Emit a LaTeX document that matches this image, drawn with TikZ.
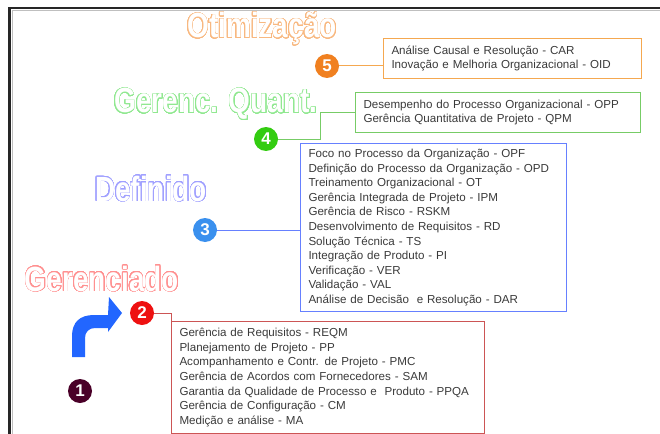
\documentclass[tikz,border=0pt]{standalone}
\usepackage{fontspec}
\usepackage{contour}
\setmainfont{Liberation Sans}
\newfontfamily\titlefont[FakeStretch=0.8]{Liberation Sans}
\contourlength{0.55pt}
\contournumber{32}
\definecolor{boxtext}{HTML}{3A3A3A}
\definecolor{otimline}{HTML}{F8B880}
\definecolor{otimbox}{HTML}{F5A850}
\definecolor{otimdot}{HTML}{F08020}
\definecolor{quantline}{HTML}{90E890}
\definecolor{quantbox}{HTML}{77CC66}
\definecolor{quantdot}{HTML}{33CC11}
\definecolor{defline}{HTML}{A0A0FF}
\definecolor{defbox}{HTML}{6680FF}
\definecolor{defdot}{HTML}{3A90EE}
\definecolor{gerline}{HTML}{FF9090}
\definecolor{gerbox}{HTML}{CC5555}
\definecolor{gerdot}{HTML}{EE1111}
\definecolor{initdot}{HTML}{4A0028}
\definecolor{upcolor}{HTML}{2266FF}

\begin{document}
\begin{tikzpicture}[x=1pt,y=-1pt,
    level/.style={font=\fontsize{35}{35}\selectfont\titlefont\bfseries, anchor=base, inner sep=0pt},
    numdot/.style={circle, minimum size=24pt, inner sep=0pt, text=white, font=\fontsize{17}{17}\selectfont\bfseries},
    listbox/.style={draw, line width=1pt, anchor=north west, align=left, inner xsep=8pt, inner ysep=0pt, text=boxtext, font=\fontsize{11.6}{14.6}\selectfont},
    link/.style={line width=1pt}]
  \useasboundingbox (0,0) rectangle (660,433);
  % frame
  \draw[black!25, line width=1pt] (12.5,440) -- (12.5,11) -- (670,11);
  \draw[black!85, line width=2.5pt] (9.5,440) -- (9.5,8) -- (670,8);

  % level names
  \node[level] (t5) at (262,38) {\contour{otimline}{\color{white}Otimização}};
  \node[level] (t4) at (216,113) {\contour{quantline}{\color{white}Gerenc. Quant.}};
  \node[level] (t3) at (151,201) {\contour{defline}{\color{white}Definido}};
  \node[level] (t2) at (102,291) {\contour{gerline}{\color{white}Gerenciado}};

  % numbered dots
  \node[numdot, fill=otimdot] (c5) at (327,66) {5};
  \node[numdot, fill=quantdot] (c4) at (266,139) {4};
  \node[numdot, fill=defdot] (c3) at (205,230) {3};
  \node[numdot, fill=gerdot] (c2) at (142,313) {2};
  \node[numdot, fill=initdot] (c1) at (80,391) {1};

  % process areas
  \node[listbox, draw=otimbox, text width=242pt, minimum height=40pt] (b5) at (383,38)
    {Análise Causal e Resolução - CAR\\
     Inovação e Melhoria Organizacional - OID};
  \node[listbox, draw=quantbox, text width=269pt, minimum height=40pt] (b4) at (355,92)
    {Desempenho do Processo Organizacional - OPP\\
     Gerência Quantitativa de Projeto - QPM};
  \node[listbox, draw=defbox, text width=250pt, minimum height=168pt] (b3) at (300,143)
    {Foco no Processo da Organização - OPF\\
     Definição do Processo da Organização - OPD\\
     Treinamento Organizacional - OT\\
     Gerência Integrada de Projeto - IPM\\
     Gerência de Risco - RSKM\\
     Desenvolvimento de Requisitos - RD\\
     Solução Técnica - TS\\
     Integração de Produto - PI\\
     Verificação - VER\\
     Validação - VAL\\
     Análise de Decisão\ \ e Resolução - DAR};
  \node[listbox, draw=gerbox, text width=297pt, minimum height=112pt] (b2) at (171,321)
    {Gerência de Requisitos - REQM\\
     Planejamento de Projeto - PP\\
     Acompanhamento e Contr. de Projeto - PMC\\
     Gerência de Acordos com Fornecedores - SAM\\
     Garantia da Qualidade de Processo e\ \ Produto - PPQA\\
     Gerência de Configuração - CM\\
     Medição e análise - MA};

  % links
  \draw[link, otimbox] (c5.east) -- (c5.east -| b5.west);
  \coordinate (k4) at (320,139);
  \draw[link, quantbox] (c4.east) -- (k4) |- (b4.west);
  \draw[link, defbox] (c3.east) -- (c3.east -| b3.west);
  \draw[link, gerbox] (c2.east) -| (b2.north west);

  % bent arrow
  \fill[upcolor] (72,357) -- (72,336) .. controls (72,322) and (80,315) .. (94,315)
    -- (108,315) -- (109,297) -- (122,313) -- (108,332) -- (108,328) -- (95,328)
    .. controls (89,328) and (85,332) .. (85,338) -- (85,357) -- cycle;
\end{tikzpicture}
\end{document}
